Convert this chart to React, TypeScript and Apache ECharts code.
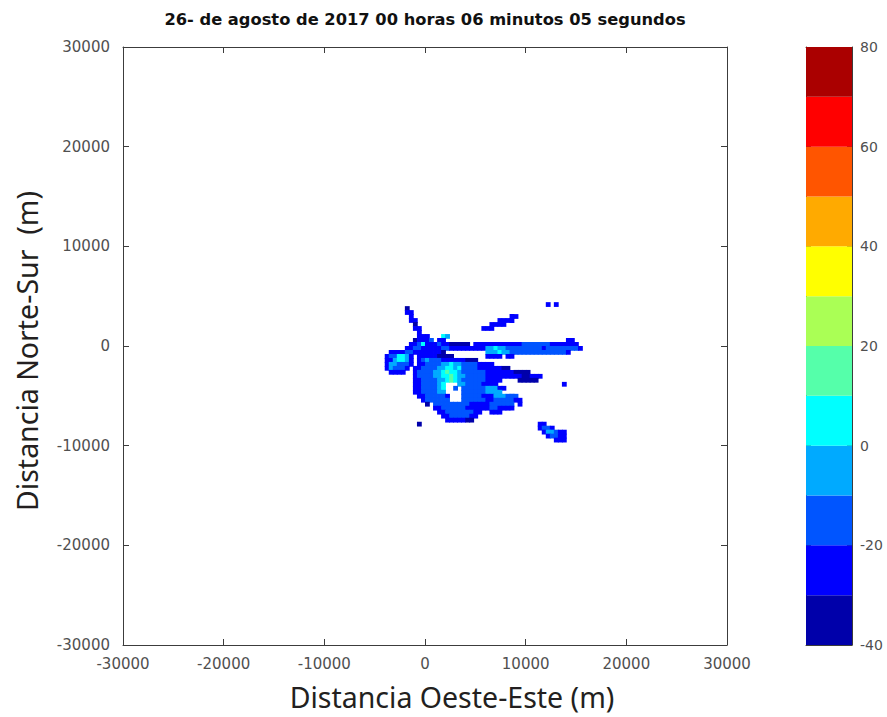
import React, { useEffect, useRef } from "react";
import * as echarts from "echarts";

const TITLE = "26- de agosto de 2017 00 horas 06 minutos 05 segundos";
const X_TITLE = "Distancia Oeste-Este (m)";
const Y_TITLE = "Distancia Norte-Sur  (m)";

const AXIS_MIN = -30000;
const AXIS_MAX = 30000;
const AXIS_STEP = 10000;

const CB_MIN = -40;
const CB_MAX = 80;
const CB_STEP = 20;

// jet(12) colour levels, 10 dBZ each, from -40 to 80
const LEVEL_EDGES = [-40, -30, -20, -10, 0, 10, 20, 30, 40, 50, 60, 70, 80];
const LEVEL_COLORS = [
  "#0000AA", "#0000FF", "#0055FF", "#00AAFF", "#00FFFF", "#55FFAA",
  "#AAFF55", "#FFFF00", "#FFAA00", "#FF5500", "#FF0000", "#AA0000",
];

// echo raster: 400 m cells, first cell's top-left corner at (-4000, 5200)
const CELL = 400;
const GRID_X0 = -4000;
const GRID_Y0 = 5200;
// representative value of each letter code (dBZ)
const CODE_VALUES: Record<string, number> = { a: -35, b: -25, c: -15, d: -5, e: 5, f: 15, g: 25 };
// one row per 400 m, from north to south; tokens "col-col:code" or "col:code"
const ECHO_ROWS = [
  "",
  "",
  "40:b 42:b",
  "5:a",
  "5-6:b",
  "6:b 31-32:b",
  "6-7:b 28-31:b",
  "7:a 26-29:b",
  "7-8:b 24-26:b",
  "8:b",
  "8-10:b 14:e 15:d",
  "7:a 8-10:b 11:c 13-14:b 45-46:b",
  "6-7:b 8:c 9:e 10-12:b 13:c 14-15:b 16-20:a 22-24:b 25-33:b 34-40:c 41-44:b 45-47:b",
  "5-6:b 7-8:c 9-13:b 14-15:c 16-20:b 21-24:b 25-26:d 27:e 28-29:d 30-38:c 39:b 40-47:c 48:b",
  "1-4:b 5-6:c 7-13:b 14:a 25-27:d 28:e 29-30:d 31-44:c 45:b",
  "0:b 1-2:c 3-4:e 5:d 6:b 8-12:b 13-16:a 25-28:b 30-31:b",
  "0-1:b 2:d 3-4:e 5:d 6:b 8:b 9:c 10:d 11-13:c 14-19:b 20-22:a",
  "0:b 1-2:d 3-5:c 6:b 8-9:b 10-13:c 14-15:d 16:e 17-18:d 19-22:c 23-26:b",
  "0:b 1:d 2-4:c 5:b 7-8:b 9-12:c 13-14:d 15-16:e 17:d 18:e 19-22:c 23-28:b 29-30:a",
  "1-4:b 7:b 8-11:c 12-13:d 14:e 15:f 16-17:e 18:d 19-24:c 25-31:b 32-35:a",
  "7:b 8-11:c 12-13:d 14-15:e 16:f 17:e 18-19:d 20-24:c 25-33:b 34-35:a 36-38:b",
  "7-8:b 9-12:c 13-14:d 15:e 16:f 17:e 18:d 19-24:c 25-28:b 33-37:a",
  "7-8:b 9-12:c 13:d 14:e 18-19:d 20-23:c 24-27:b 44:b",
  "7-8:b 9-12:c 13:d 14:e 17:c 19-24:c 25-27:d 28-29:b",
  "7-8:b 9-12:c 13-14:d 19-24:c 25-28:d",
  "8-9:b 10-14:c 15:b 19-23:c 24-26:b 27-29:d 30-32:c",
  "9:b 10-15:c 19-24:c 25-26:b 27-31:c 32-33:b",
  "10:a 12-20:c 21-25:b 26-31:c 33:b",
  "12-13:b 14-19:c 20-25:b 26-27:c 28-31:b",
  "13-14:b 15-21:c 22-23:b 26-28:b",
  "14-15:b 16-20:c 21-22:b",
  "15-19:b 20-21:a",
  "8:a 38-39:b",
  "38:b 39-40:c 41:b",
  "39:b 40-41:d 42:c 43-44:b",
  "40:b 41-42:c 43-44:b",
  "42-44:b",
];

function buildEcho(): number[][] {
  const out: number[][] = [];
  ECHO_ROWS.forEach((row, r) => {
    row.split(/\s+/).filter(Boolean).forEach((tok) => {
      const [range, code] = tok.split(":");
      const parts = range.split("-").map(Number);
      const c0 = parts[0];
      const c1 = parts.length > 1 ? parts[1] : parts[0];
      for (let c = c0; c <= c1; c++) {
        const x = GRID_X0 + c * CELL + CELL / 2;
        const y = GRID_Y0 - r * CELL - CELL / 2;
        out.push([x, y, CODE_VALUES[code]]);
      }
    });
  });
  return out;
}

const AXIS_COLOR = "#3c3c3c";
const LABEL_COLOR = "#505050";
const LABEL_FONT = "DejaVu Sans";
const plain = (v: number) => String(v);

export default function App() {
  const ref = useRef<HTMLDivElement>(null);
  useEffect(() => {
    if (!ref.current) return;
    const chart = echarts.init(ref.current, undefined, { renderer: "svg" });
    const echo = buildEcho();
    const cbData = LEVEL_COLORS.map((_, i) => [LEVEL_EDGES[i], LEVEL_EDGES[i + 1], i]);

    const mainAxisCommon = {
      type: "value",
      min: AXIS_MIN,
      max: AXIS_MAX,
      interval: AXIS_STEP,
      splitLine: { show: false },
      axisLine: { show: true, onZero: false, lineStyle: { color: AXIS_COLOR, width: 1 } },
      axisTick: { show: true, inside: true, length: 6, lineStyle: { color: AXIS_COLOR } },
    };
    const cbFrameX = {
      type: "value",
      gridIndex: 1,
      min: 0,
      max: 1,
      splitLine: { show: false },
      axisLine: { show: true, onZero: false, lineStyle: { color: AXIS_COLOR } },
      axisTick: { show: false },
      axisLabel: { show: false },
    };
    const cbYCommon = {
      type: "value",
      gridIndex: 1,
      min: CB_MIN,
      max: CB_MAX,
      interval: CB_STEP,
      splitLine: { show: false },
      axisLine: { show: true, onZero: false, lineStyle: { color: AXIS_COLOR } },
      axisTick: { show: true, inside: true, length: 5, lineStyle: { color: AXIS_COLOR } },
    };
    const labelStyle = { color: LABEL_COLOR, fontFamily: LABEL_FONT, fontSize: 15, formatter: plain };

    chart.setOption({
      animation: false,
      backgroundColor: "#ffffff",
      grid: [
        { left: 123, top: 47, width: 604, height: 598 },
        { left: 806, top: 47, width: 46, height: 598 },
      ],
      xAxis: [
        { ...mainAxisCommon, gridIndex: 0, position: "bottom", axisLabel: { ...labelStyle, margin: 11 } },
        { ...mainAxisCommon, gridIndex: 0, position: "top", axisLabel: { show: false } },
        { ...cbFrameX, position: "bottom" },
        { ...cbFrameX, position: "top" },
      ],
      yAxis: [
        { ...mainAxisCommon, gridIndex: 0, position: "left", axisLabel: { ...labelStyle, margin: 13 } },
        { ...mainAxisCommon, gridIndex: 0, position: "right", axisLabel: { show: false } },
        { ...cbYCommon, position: "right", axisLabel: { ...labelStyle, fontSize: 14, margin: 8 } },
        { ...cbYCommon, position: "left", axisLabel: { show: false } },
      ],
      visualMap: {
        type: "piecewise",
        show: false,
        seriesIndex: 0,
        dimension: 2,
        pieces: LEVEL_COLORS.map((color, i) => ({
          gte: LEVEL_EDGES[i],
          lt: LEVEL_EDGES[i + 1],
          color,
        })),
      },
      series: [
        {
          type: "custom",
          xAxisIndex: 0,
          yAxisIndex: 0,
          clip: true,
          data: echo,
          renderItem: (params: any, api: any) => {
            const p = api.coord([api.value(0), api.value(1)]);
            const s = api.size([CELL, CELL]);
            return {
              type: "rect",
              shape: { x: p[0] - s[0] / 2, y: p[1] - s[1] / 2, width: s[0] + 0.8, height: s[1] + 0.8 },
              style: { fill: api.visual("color") },
            };
          },
        },
        {
          type: "custom",
          xAxisIndex: 2,
          yAxisIndex: 2,
          data: cbData,
          renderItem: (params: any, api: any) => {
            const lo = api.coord([0, api.value(0)]);
            const hi = api.coord([1, api.value(1)]);
            return {
              type: "rect",
              shape: { x: lo[0], y: hi[1], width: hi[0] - lo[0], height: lo[1] - hi[1] },
              style: { fill: LEVEL_COLORS[api.value(2)] },
            };
          },
        },
      ],
      graphic: [
        {
          type: "text",
          x: 425,
          y: 19,
          style: {
            text: TITLE,
            font: 'bold 16.3px "DejaVu Sans"',
            fill: "#111111",
            textAlign: "center",
            textVerticalAlign: "middle",
          },
        },
        {
          type: "text",
          x: 452,
          y: 697,
          style: {
            text: X_TITLE,
            font: '28.5px "Noto Sans"',
            fill: "#231f20",
            textAlign: "center",
            textVerticalAlign: "middle",
          },
        },
        {
          type: "text",
          x: 27,
          y: 351,
          rotation: Math.PI / 2,
          style: {
            text: Y_TITLE,
            font: '28.5px "Noto Sans"',
            fill: "#231f20",
            textAlign: "center",
            textVerticalAlign: "middle",
          },
        },
      ],
    });
    return () => chart.dispose();
  }, []);
  return (
    <div
      ref={ref}
      style={{ position: "absolute", left: 0, top: 0, width: 887, height: 717 }}
    />
  );
}
